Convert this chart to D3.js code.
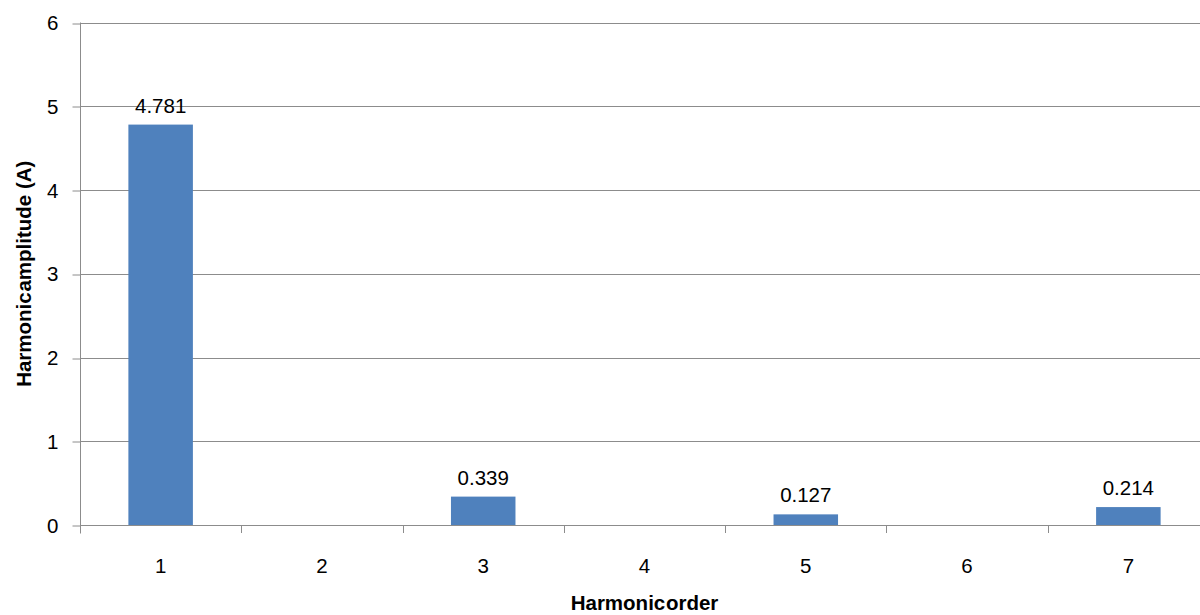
<!DOCTYPE html>
<html>
<head>
<meta charset="utf-8">
<script src="https://cdn.jsdelivr.net/npm/d3@7"></script>
<style>
  html, body { margin: 0; padding: 0; background: #fff; }
  svg { display: block; font-family: "Liberation Sans", Arial, sans-serif; }
</style>
</head>
<body>
<svg id="chart" width="1200" height="615"></svg>
<script>
// Harmonic spectrum data
const harmonicOrders = ["1", "2", "3", "4", "5", "6", "7"];
const amplitudes = [4.781, 0, 0.339, 0, 0.127, 0, 0.214];
const yTickValues = [0, 1, 2, 3, 4, 5, 6];

const svg = d3.select("#chart");
const margin = { left: 80, top: 22.5 };
const plotRight = 1209;
const plotBottom = 525;
const fontSize = 20.5;

const x = d3.scaleBand()
  .domain(harmonicOrders)
  .range([margin.left, plotRight])
  .paddingInner(0)
  .paddingOuter(0);

const y = d3.scaleLinear()
  .domain([0, 6])
  .range([plotBottom, margin.top]);

const gridColor = "#8c8c8c";

// Horizontal gridlines
svg.append("g")
  .selectAll("line")
  .data(yTickValues.filter(d => d > 0))
  .join("line")
  .attr("x1", margin.left)
  .attr("x2", plotRight)
  .attr("y1", d => Math.round(y(d)) + 0.5)
  .attr("y2", d => Math.round(y(d)) + 0.5)
  .attr("stroke", gridColor)
  .attr("stroke-width", 1);

const points = harmonicOrders.map((k, i) => ({ k, v: amplitudes[i] })).filter(d => d.v > 0);

// Bars (bar width = band / 2.5, i.e. a 150% gap)
const barW = x.bandwidth() / 2.5;
svg.append("g")
  .selectAll("rect")
  .data(points)
  .join("rect")
  .attr("x", d => x(d.k) + (x.bandwidth() - barW) / 2)
  .attr("y", d => y(d.v))
  .attr("width", barW)
  .attr("height", d => y(0) - y(d.v))
  .attr("fill", "#4f81bd");

// Value labels
svg.append("g")
  .selectAll("text")
  .data(points)
  .join("text")
  .attr("x", d => x(d.k) + x.bandwidth() / 2)
  .attr("y", d => y(d.v) - 12)
  .attr("text-anchor", "middle")
  .attr("font-size", fontSize)
  .attr("fill", "#000")
  .text(d => d3.format(".3f")(d.v));

// Y axis
const yAxis = d3.axisLeft(y)
  .tickValues(yTickValues)
  .tickSize(8)
  .tickPadding(14)
  .tickFormat(d3.format("d"));
const gy = svg.append("g")
  .attr("transform", `translate(${margin.left + 0.5},0.5)`)
  .call(yAxis);
gy.select(".domain").attr("stroke", gridColor).attr("d", `M0,${margin.top - 0.5}V${plotBottom + 8}`);
gy.selectAll(".tick line").attr("stroke", gridColor).attr("transform", d => `translate(0,${Math.round(y(d)) - y(d)})`);
gy.selectAll(".tick text")
  .attr("font-size", fontSize)
  .attr("fill", "#000")
  .attr("font-family", "Liberation Sans, Arial, sans-serif");

// X axis
const xAxis = d3.axisBottom(x).tickSize(0);
const gx = svg.append("g")
  .attr("transform", `translate(0,${plotBottom + 0.5})`)
  .call(xAxis);
gx.select(".domain").attr("stroke", gridColor).attr("d", `M${margin.left},0H${plotRight}`);
gx.selectAll(".tick text")
  .attr("font-size", fontSize)
  .attr("fill", "#000")
  .attr("font-family", "Liberation Sans, Arial, sans-serif")
  .attr("y", 47)
  .attr("dy", 0);

// Category separator ticks
svg.append("g")
  .selectAll("line")
  .data(harmonicOrders.slice(1))
  .join("line")
  .attr("x1", d => Math.round(x(d)) + 0.5)
  .attr("x2", d => Math.round(x(d)) + 0.5)
  .attr("y1", plotBottom)
  .attr("y2", plotBottom + 8)
  .attr("stroke", gridColor);

// Axis titles
const yTitle = svg.append("text")
  .attr("transform", `translate(31,${(margin.top + plotBottom) / 2}) rotate(-90)`)
  .attr("text-anchor", "middle")
  .attr("font-size", fontSize)
  .attr("font-weight", "bold");
yTitle.append("tspan").text("Harmonic ");
yTitle.append("tspan").attr("dx", -5).text("amplitude (A)");

const xTitle = svg.append("text")
  .attr("x", (margin.left + plotRight) / 2 - 0)
  .attr("y", 610)
  .attr("text-anchor", "middle")
  .attr("font-size", fontSize)
  .attr("font-weight", "bold");
xTitle.append("tspan").text("Harmonic ");
xTitle.append("tspan").attr("dx", -5).text("order");
</script>
</body>
</html>
